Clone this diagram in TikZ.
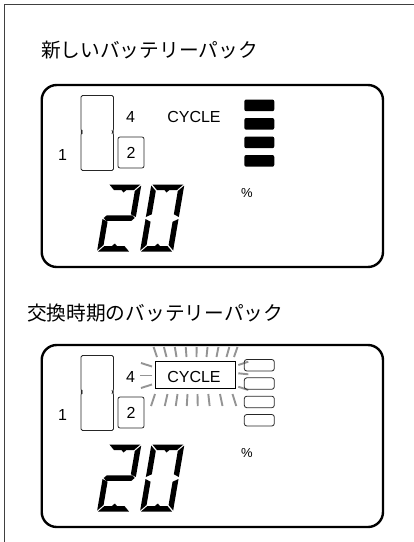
\documentclass[tikz,border=0pt]{standalone}
\usepackage{fontspec}
\setmainfont{Liberation Sans}
\newfontfamily\jpfont{Noto Sans CJK JP}

\begin{document}
\begin{tikzpicture}[x=1pt,y=-1pt,
  lcd/.style={line width=2.4pt, rounded corners=15pt},
  thinline/.style={line width=0.8pt, draw=black!85},
  digitbox/.style={thinline, rounded corners=2pt, minimum width=26pt,
    minimum height=31pt, inner sep=0pt, font=\fontsize{16}{16}\selectfont},
  ray/.style={draw=black!42, line width=1.9pt},
  lbl/.style={font=\fontsize{16}{16}\selectfont, inner sep=0pt},
  title/.style={font=\jpfont\fontsize{19.7}{19.7}\selectfont, inner sep=0pt, anchor=west}]

\useasboundingbox (0,0) rectangle (414,542);
\draw[black!75, line width=1.4pt] (4.5,542) -- (4.5,4.5) -- (414,4.5);

\node[title] (title-new) at (41,50) {新しいバッテリーパック};
\node[title] (title-old) at (27,313) {交換時期のバッテリーパック};

%%%%%%%%%%%%%%%%%%%%%%%%%%%%
\foreach \dy/\p in {0/new,260/old}{
\begin{scope}[shift={(0,\dy)}]
\draw[lcd] (41.7,85) rectangle (383,267);

% battery
\draw[thinline, rounded corners=1.5pt] (81,95.5) -- (113.5,95.5) -- (113.5,130.5)
  -- (112.5,132) -- (113.5,133.5) -- (113.5,170.5) -- (81,170.5) -- (81,133.5)
  -- (82,132) -- (81,130.5) -- cycle;

\node[lbl] (one-\p) at (62.5,155) {1};
\node[digitbox, draw] (two-\p) at (131,152.5) {2};
\node[lbl] (four-\p) at (130.5,116.7) {4};
\node[lbl] (cycle-\p) at (194,116.7) {CYCLE};
\node[inner sep=0pt, font=\fontsize{13}{13}\selectfont] (pct-\p) at (247,193) {\%};

% big 20
\foreach \ox in {97,140}{
\begin{scope}[shift={(\ox,251.5)}, y=1pt, xslant=0.17]
\fill (1,67) -- (32,67) -- (26.5,61.5) -- (19,61.5) -- (16.5,59) -- (14,61.5) -- (6.5,61.5) -- cycle;
\fill (1,0) -- (32,0) -- (26.5,5.5) -- (19,5.5) -- (16.5,8) -- (14,5.5) -- (6.5,5.5) -- cycle;
\fill (33,66) -- (27.5,60.5) -- (27.5,37.25) -- (33,34.5) -- cycle;
\fill (0,1) -- (5.5,6.5) -- (5.5,29.75) -- (0,32.5) -- cycle;
\end{scope}
}
\begin{scope}[shift={(97,251.5)}, y=1pt, xslant=0.17]
\fill (1,33.5) -- (3.75,36.25) -- (29.25,36.25) -- (32,33.5) -- (29.25,30.75) -- (3.75,30.75) -- cycle;
\end{scope}
\begin{scope}[shift={(140,251.5)}, y=1pt, xslant=0.17]
\fill (33,1) -- (27.5,6.5) -- (27.5,29.75) -- (33,32.5) -- cycle;
\fill (0,66) -- (5.5,60.5) -- (5.5,37.25) -- (0,34.5) -- cycle;
\end{scope}
\end{scope}
}

%%%%%%%%%%%%%%%%%%%%%%%%%%%%
% new pack: full bars
\foreach \y in {99.5,118,136.5,155}
  \fill[rounded corners=2pt] (244.3,\y) rectangle (274.3,\y+11.7);

%%%%%%%%%%%%%%%%%%%%%%%%%%%%
% old pack: empty bars, blinking CYCLE
\begin{scope}[shift={(0,260)}]
\foreach \x in {157,166.5,176.5,186.5,196.5,206.5,216.5,226.5,234}
  \draw[ray] (\x,97) -- (\x+0.09*\x-17.55,87);
\foreach \x in {155,167.5,177.5,187.5,197.5,208.3,220,232.5}
  \draw[ray] (\x,134) -- (\x+0.1*\x-19.5,146);
\draw[ray] (152,106.5) -- (141,103);
\draw[ray] (152,115.5) -- (140,115.5);
\draw[ray] (152,124.5) -- (141,128);
\draw[ray] (238.3,105) -- (248.3,101.7);
\draw[ray] (238.3,113.3) -- (248.3,114.3);
\draw[ray] (238.3,126.7) -- (248.3,130);

\draw[line width=1pt, fill=white] (155,101.7) rectangle (235,128.3);
\node[lbl] at (cycle-old) {CYCLE};

\foreach \y in {99.5,117.8,136.2,154.5}
  \draw[thinline, rounded corners=2.5pt] (244.3,\y) rectangle (274.3,\y+11.5);
\end{scope}
\end{tikzpicture}
\end{document}
